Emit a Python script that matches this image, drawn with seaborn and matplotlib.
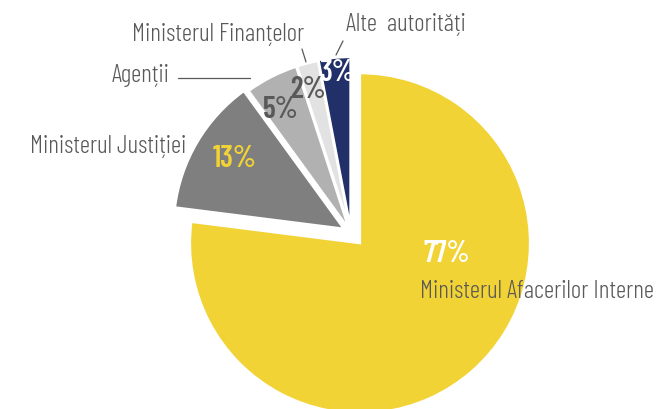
import matplotlib
matplotlib.use("Agg")
import matplotlib.pyplot as plt
import seaborn as sns
from matplotlib import font_manager

categories = ["Ministerul Afacerilor Interne", "Ministerul Justiției", "Agenții",
              "Ministerul Finanțelor", "Alte  autorități"]
values = [77, 13, 5, 2, 3]
pct_labels = ["77%", "13%", "5%", "2%", "3%"]

colors = ["#F2D335", "#7F7F7F", "#B1B1B1", "#E2E2E2", "#22306A"]
pct_colors = ["#FFFFFF", "#F2D335", "#595959", "#595959", "#FFFFFF"]
explode = [0.08, 0.05, 0.03, 0.03, 0.035]

sns.set_theme(style="white")
avail = {f.name for f in font_manager.fontManager.ttflist}
fam = [f for f in ["Barlow Condensed", "Liberation Sans Narrow", "DejaVu Sans"] if f in avail]
plt.rcParams["font.family"] = fam

W, H = 658, 410
fig = plt.figure(figsize=(W / 100, H / 100), dpi=100)
ax = fig.add_axes([0, 0, 1, 1])

R = 170.0
CX, CY = 351.0, 234.0


def d(px, py):
    return ((px - CX) / R, (CY - py) / R)


wedges, _ = ax.pie(values, colors=colors, startangle=90, counterclock=False,
                   explode=explode, radius=1.0,
                   wedgeprops=dict(edgecolor="white", linewidth=1.6))

ax.set_aspect("auto")
ax.set_xlim(-CX / R, (W - CX) / R)
ax.set_ylim(-(H - CY) / R, CY / R)
ax.axis("off")

# percentage labels
pct_pos = [(447, 254), (235, 159), (281, 110), (308, 90), (337, 73)]
for lab, col, (px, py) in zip(pct_labels, pct_colors, pct_pos):
    x, y = d(px, py)
    ax.text(x, y, lab, color=col, fontsize=21.5, fontweight=600,
            ha="center", va="center")

# category labels
txt_col = "#595959"
cat_specs = [
    ((420, 298), "left"),
    ((186, 153), "right"),
    ((170, 82), "right"),
    ((304, 41), "right"),
    ((346, 31), "left"),
]
for name, ((px, py), ha) in zip(categories, cat_specs):
    x, y = d(px, py)
    ax.text(x, y, name, color=txt_col, fontsize=18.2, fontweight=300,
            ha=ha, va="baseline")

# leader lines
leaders = [((178, 79), (250, 79)), ((302, 50), (306, 63)), ((343, 42), (336, 56))]
for (p1, p2) in leaders:
    x1, y1 = d(*p1)
    x2, y2 = d(*p2)
    ax.plot([x1, x2], [y1, y2], color="#595959", linewidth=0.9)

fig.savefig("out.png", dpi=100)
